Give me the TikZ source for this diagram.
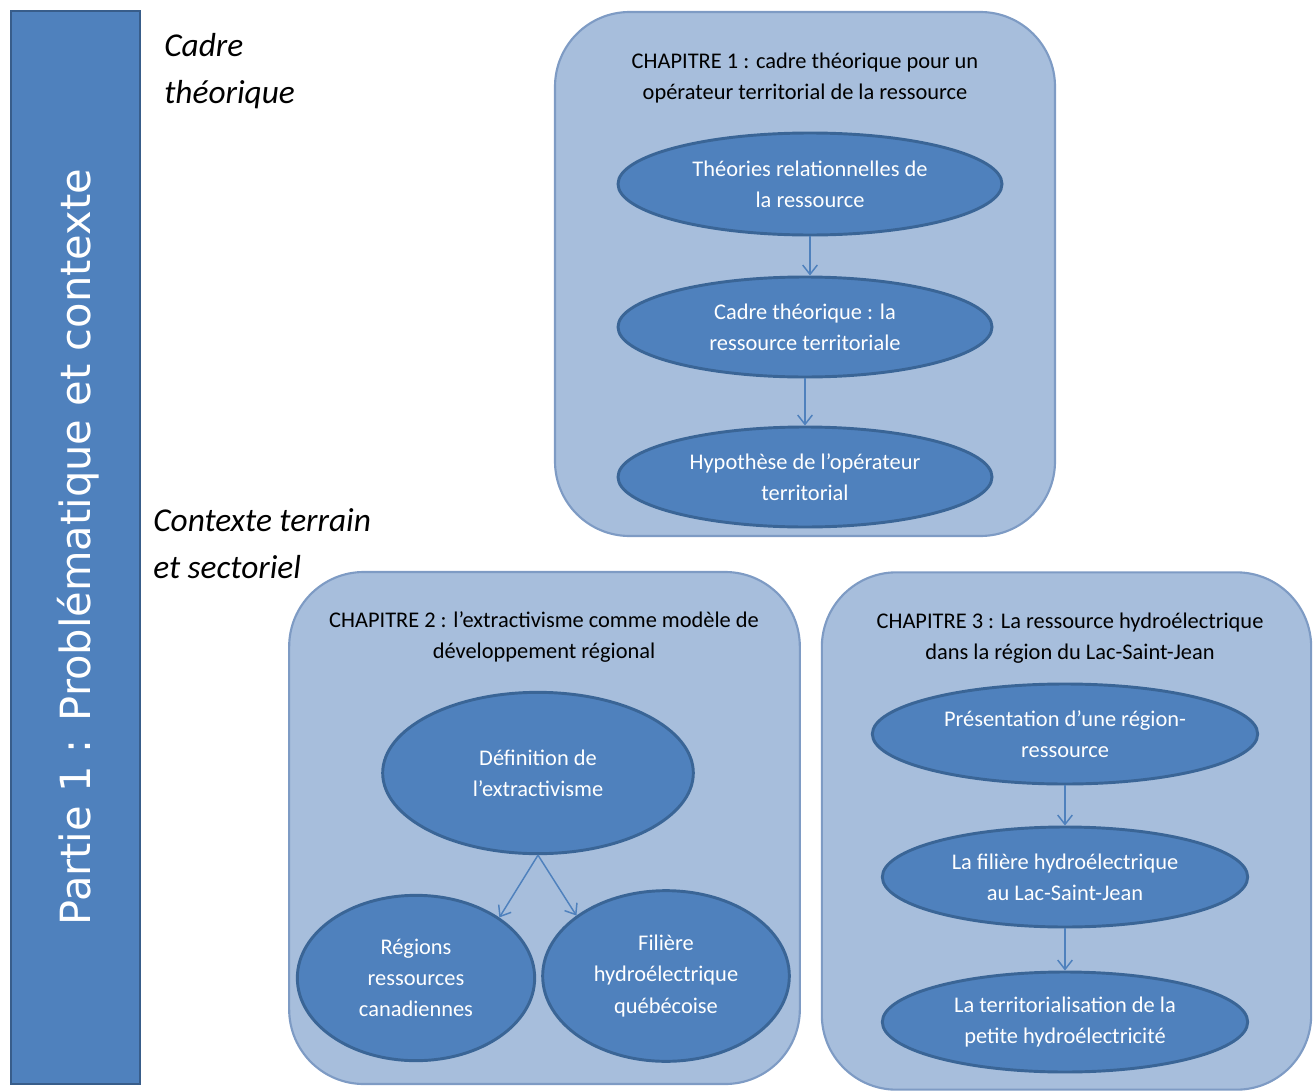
\documentclass[tikz,border=0pt]{standalone}
\usepackage{fontspec}
\setmainfont{Carlito}
\newfontfamily\vertfont{DejaVu Sans}
\usetikzlibrary{shapes.geometric,arrows.meta}
\definecolor{barfill}{HTML}{4F81BD}
\definecolor{barline}{HTML}{385D8A}
\definecolor{boxfill}{HTML}{A7BEDC}
\definecolor{boxline}{HTML}{7E9BC4}
\definecolor{ellfill}{HTML}{4F81BD}
\definecolor{ellline}{HTML}{3A6596}
\definecolor{arrcol}{HTML}{4F81BD}
\tikzset{
  chapbox/.style={draw=boxline, fill=boxfill, line width=1.6pt, rounded corners=56pt, inner sep=0pt},
  ell/.style={ellipse, draw=ellline, fill=ellfill, line width=2.2pt, inner sep=0pt, text=white, align=center, font=\fontsize{16.8}{23.5}\selectfont},
  chaptitle/.style={align=center, text=black, font=\fontsize{16.8}{23.5}\selectfont},
  side/.style={anchor=base west, align=left, inner sep=0pt, font=\fontsize{25}{35}\selectfont\itshape},
  arr/.style={draw=arrcol, line width=1.1pt, -{Straight Barb[length=7pt,width=11pt]}}
}
\begin{document}
\begin{tikzpicture}[x=0.75pt,y=-0.75pt]
\useasboundingbox (0,0) rectangle (1314,1092);
% left bar
\node[draw=barline, fill=barfill, line width=2pt, minimum width=96.75pt, minimum height=804.75pt, inner sep=0pt] (bar) at (75.5,547.5) {};
\node[rotate=90, text=white, font=\vertfont\fontsize{31.2}{36}\selectfont] (bartext) at (78,547) {Partie 1 : Problématique et contexte};
% side labels
\node[side] (cadre) at (164,103) {Cadre\\théorique};
\node[side] (ctx) at (153,578) {Contexte terrain\\et sectoriel};
% chapter 1
\node[chapbox, minimum width=375pt, minimum height=393pt] (ch1) at (805,274) {};
\node[chaptitle] (t1) at (805,78) {CHAPITRE 1 : cadre théorique pour un\\opérateur territorial de la ressource};
\node[ell, minimum width=288pt, minimum height=76.5pt] (e11) at (810,184) {Théories relationnelles de\\la ressource};
\node[ell, minimum width=280.5pt, minimum height=75pt] (e12) at (805,327) {Cadre théorique : la\\ressource territoriale};
\node[ell, minimum width=280.5pt, minimum height=75pt] (e13) at (805,477) {Hypothèse de l’opérateur\\territorial};
\draw[arr] (e11.south) -- (e11.south |- e12.north);
\draw[arr] (e12.south) -- (e13.north);
% chapter 2
\node[chapbox, minimum width=383pt, minimum height=384pt] (ch2) at (544.5,828) {};
\node[chaptitle] (t2) at (544,637) {CHAPITRE 2 : l’extractivisme comme modèle de\\développement régional};
\node[ell, minimum width=233pt, minimum height=121pt] (e21) at (538,773) {Définition de\\l’extractivisme};
\node[ell, minimum width=178pt, minimum height=124pt] (e22) at (416,978) {Régions\\ressources\\canadiennes};
\node[ell, minimum width=185pt, minimum height=128pt] (e23) at (666,976) {Filière\\hydroélectrique\\québécoise};
\draw[arr] (e21.south) -- (e22.36);
\draw[arr] (e21.south) -- (e23.146);
% chapter 3
\node[chapbox, minimum width=367pt, minimum height=388pt] (ch3) at (1066.5,831) {};
\node[chaptitle] (t3) at (1070,638) {CHAPITRE 3 : La ressource hydroélectrique\\dans la région du Lac-Saint-Jean};
\node[ell, minimum width=289pt, minimum height=75pt] (e31) at (1065,734) {Présentation d’une région-\\ressource};
\node[ell, minimum width=274pt, minimum height=75pt] (e32) at (1065,877) {La filière hydroélectrique\\au Lac-Saint-Jean};
\node[ell, minimum width=274pt, minimum height=75pt] (e33) at (1065,1022) {La territorialisation de la\\petite hydroélectricité};
\draw[arr] (e31.south) -- (e32.north);
\draw[arr] (e32.south) -- (e33.north);
\end{tikzpicture}
\end{document}
